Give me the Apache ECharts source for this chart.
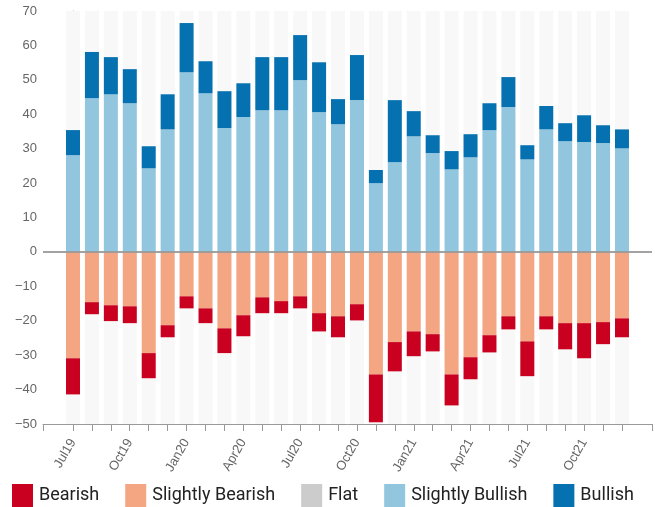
<!DOCTYPE html>
<html lang="en">
<head>
  <meta charset="UTF-8">
  <title>sentiment</title>
  <style>
  html, body {
  margin: 0;
  padding: 0;
  width: 100%;
  height: 100%;
  background: #fff;
}

.main {
  width: 655px;
  height: 507px;
}
  </style>
</head>
<body>
<div class="main" id="main"></div>
<script src="https://cdn.jsdelivr.net/npm/echarts@6/dist/echarts.min.js"></script>
<script>
var months = ['Jul19','Aug19','Sep19','Oct19','Nov19','Dec19',
  'Jan20','Feb20','Mar20','Apr20','May20','Jun20','Jul20','Aug20','Sep20','Oct20','Nov20','Dec20',
  'Jan21','Feb21','Mar21','Apr21','May21','Jun21','Jul21','Aug21','Sep21','Oct21','Nov21','Dec21'];

var bearish = [-10.5,-3.5,-4.6,-4.9,-7.3,-3.5,-3.5,-4.3,-7.2,-6.1,-4.6,-3.5,-3.5,-5.3,-6.1,
  -4.7,-13.9,-8.5,-7.2,-5.0,-9.0,-6.4,-5.0,-3.8,-10.1,-3.8,-7.6,-10.2,-6.4,-5.5];
var slightlyBearish = [-30.9,-14.6,-15.5,-15.8,-29.4,-21.3,-12.9,-16.4,-22.2,-18.4,-13.2,-14.3,-12.9,-17.8,-18.7,
  -15.2,-35.6,-26.2,-23.1,-23.9,-35.6,-30.6,-24.2,-18.7,-26.0,-18.7,-20.7,-20.7,-20.4,-19.3];
var flat = [0,0,0,0,0,0,0,0,0,0,0,0,0,0,0,0,0,0,0,0,0,0,0,0,0,0,0,0,0,0];
var slightlyBullish = [28.1,44.7,45.8,43.2,24.3,35.6,52.2,46.1,36.0,39.2,41.2,41.2,49.9,40.6,37.1,
  44.1,20.0,26.1,33.6,28.7,24.0,27.5,35.4,42.1,26.9,35.6,32.2,31.9,31.6,30.1];
var bullish = [7.3,13.4,10.8,9.9,6.4,10.2,14.3,9.3,10.7,9.8,15.4,15.4,13.1,14.5,7.3,
  13.1,3.8,18.0,7.3,5.2,5.3,6.7,7.8,8.7,4.1,6.8,5.2,7.8,5.2,5.5];

// labels only every third month
var labelIdx = [0, 3, 6, 9, 12, 15, 18, 21, 24, 27];

// the visible axis runs about a month and a half past the first and last bar
var pad = 1.58;
var xMin = -pad, xMax = months.length - 1 + pad;

var tickIdx = [xMin];
for (var i = 0; i < months.length; i++) tickIdx.push(i);
tickIdx.push(xMax);

var chart = echarts.init(document.getElementById('main'));

function bar(name, arr, color, extra) {
  var s = {
    name: name,
    type: 'bar',
    stack: 'all',
    barWidth: 14,
    xAxisIndex: 0,
    yAxisIndex: 0,
    itemStyle: { color: color },
    emphasis: { disabled: true },
    data: arr
  };
  for (var k in extra) s[k] = extra[k];
  return s;
}

// grid 0 holds the bars on a hidden category axis, grid 1 draws the visible axes
var step = 18.93;
var firstCenter = 73;
var barLeft = firstCenter - step / 2;
var barRight = 655 - (barLeft + step * months.length);

var option = {
  animation: false,
  grid: [
    { left: barLeft, right: barRight, top: 11, bottom: 83 },
    { left: 43, right: 3, top: 11, bottom: 83 }
  ],
  legend: {
    data: ['Bearish', 'Slightly Bearish', 'Flat', 'Slightly Bullish', 'Bullish'],
    left: 12,
    top: 484,
    padding: 0,
    icon: 'rect',
    itemWidth: 21,
    itemHeight: 23,
    itemGap: 26,
    textStyle: { fontFamily: 'Roboto', fontSize: 18, color: '#222', padding: [0, 0, 0, 1] }
  },
  xAxis: [{
    type: 'category',
    gridIndex: 0,
    data: months,
    show: false
  }, {
    type: 'value',
    gridIndex: 1,
    min: xMin,
    max: xMax,
    splitLine: { show: false },
    axisLine: { onZero: false, lineStyle: { color: '#999' } },
    axisTick: { customValues: tickIdx, length: 7, lineStyle: { color: '#999' } },
    axisLabel: {
      customValues: labelIdx,
      rotate: 60,
      margin: 16,
      color: '#666',
      fontFamily: 'Liberation Sans',
      fontSize: 13,
      formatter: function(v) { return months[Math.round(v)]; }
    }
  }],
  yAxis: [{
    type: 'value',
    gridIndex: 0,
    min: -50,
    max: 70,
    show: false,
    splitLine: { show: false }
  }, {
    type: 'value',
    gridIndex: 1,
    min: -50,
    max: 70,
    interval: 10,
    splitLine: { show: false },
    axisLine: { show: true, lineStyle: { color: '#999' } },
    axisTick: { show: true, length: 6, lineStyle: { color: '#999' } },
    axisLabel: {
      color: '#666',
      fontFamily: 'Liberation Sans',
      fontSize: 13,
      margin: 6,
      formatter: function(v) { return String(v).replace('-', '\u2212'); }
    }
  }],
  series: [
    bar('Slightly Bearish', slightlyBearish, '#f4a582', {
      showBackground: true,
      backgroundStyle: { color: '#f8f8f8' }
    }),
    bar('Bearish', bearish, '#ca0020'),
    bar('Flat', flat, '#cccccc'),
    bar('Slightly Bullish', slightlyBullish, '#92c5de'),
    bar('Bullish', bullish, '#0571b0'),
    {
      name: 'zero',
      type: 'line',
      xAxisIndex: 1,
      yAxisIndex: 1,
      data: [],
      silent: true,
      markLine: {
        silent: true,
        symbol: ['none', 'none'],
        label: { show: false },
        lineStyle: { color: '#999', width: 2, type: 'solid', opacity: 0.9 },
        data: [{ yAxis: 0 }]
      }
    }
  ]
};

chart.setOption(option);
</script>
</body>
</html>
